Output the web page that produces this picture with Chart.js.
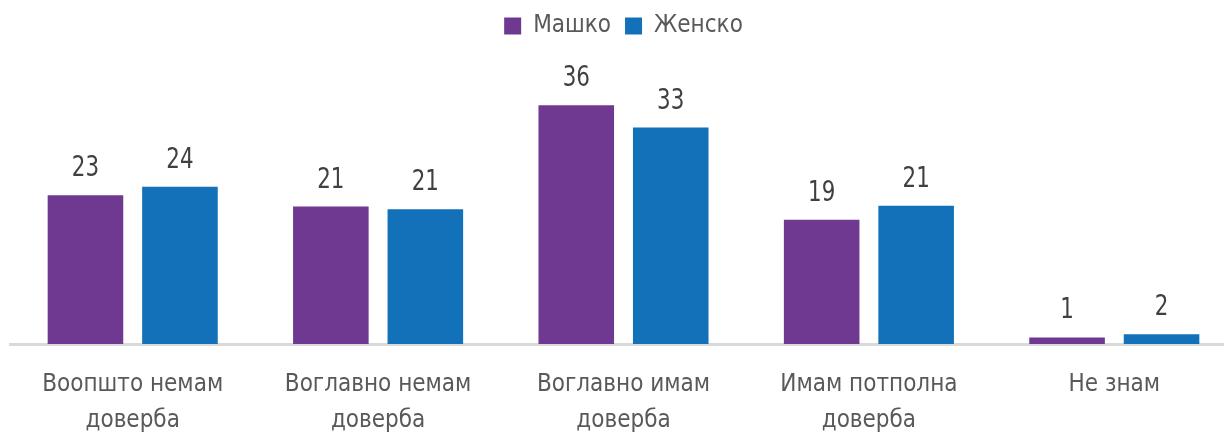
<!DOCTYPE html>
<html>
<head>
<meta charset="utf-8">
<script src="https://cdn.jsdelivr.net/npm/chart.js@4/dist/chart.umd.min.js"></script>
<style>
  html, body { margin: 0; padding: 0; background: #fff; overflow: hidden; }
  #wrap { width: 1240px; height: 439px; position: relative; }
</style>
</head>
<body>
<div id="wrap"><canvas id="canvas"></canvas></div>
<script>
var categories = [
  ["Воопшто немам", "доверба"],
  ["Воглавно немам", "доверба"],
  ["Воглавно имам", "доверба"],
  ["Имам потполна", "доверба"],
  ["Не знам"]
];
var maleValues = [22.6, 20.9, 36.3, 18.9, 1.0];
var femaleValues = [23.9, 20.5, 32.9, 21.0, 1.5];
var seriesNames = ["Машко", "Женско"];

var fontFamily = "'DejaVu Sans Condensed', 'Liberation Sans Narrow', sans-serif";

// numbers over the bars (squeezed a bit to look like a condensed face)
var barLabels = {
  id: "barLabels",
  afterDatasetsDraw: function(chart) {
    var ctx = chart.ctx;
    chart.data.datasets.forEach(function(ds, i) {
      var meta = chart.getDatasetMeta(i);
      meta.data.forEach(function(bar, j) {
        ctx.save();
        ctx.translate(bar.x, bar.y - 19);
        ctx.scale(0.85, 1);
        ctx.font = "28px " + fontFamily;
        ctx.fillStyle = "#404040";
        ctx.textAlign = "center";
        ctx.textBaseline = "alphabetic";
        ctx.fillText(Math.round(ds.data[j]), 0, 0);
        ctx.restore();
      });
    });
  }
};

var data = {
  labels: categories,
  datasets: [
    {
      label: seriesNames[0],
      data: maleValues,
      backgroundColor: "#6F3891",
      categoryPercentage: 0.77,
      barPercentage: 0.8
    },
    {
      label: seriesNames[1],
      data: femaleValues,
      backgroundColor: "#1271B8",
      categoryPercentage: 0.77,
      barPercentage: 0.8
    }
  ]
};

var ctx = document.getElementById("canvas").getContext("2d");
new Chart(ctx, {
  type: "bar",
  data: data,
  options: {
    responsive: true,
    maintainAspectRatio: false,
    animation: false,
    layout: { padding: { left: 10, right: 3, top: 0, bottom: 0 } },
    plugins: {
      legend: {
        position: "top",
        labels: {
          font: { family: fontFamily, size: 24 },
          color: "#595959",
          boxWidth: 17,
          boxHeight: 17,
          padding: 14
        }
      },
      tooltip: { enabled: false }
    },
    scales: {
      x: {
        grid: { display: false },
        border: { color: "#d9d9d9", width: 3 },
        ticks: {
          color: "#595959",
          font: { family: fontFamily, size: 24, lineHeight: 1.5 },
          padding: 15,
          maxRotation: 0
        },
        afterFit: function(scale) { scale.height = 95; }
      },
      y: {
        display: false,
        min: 0,
        max: 45
      }
    }
  },
  plugins: [barLabels]
});
</script>
</body>
</html>
